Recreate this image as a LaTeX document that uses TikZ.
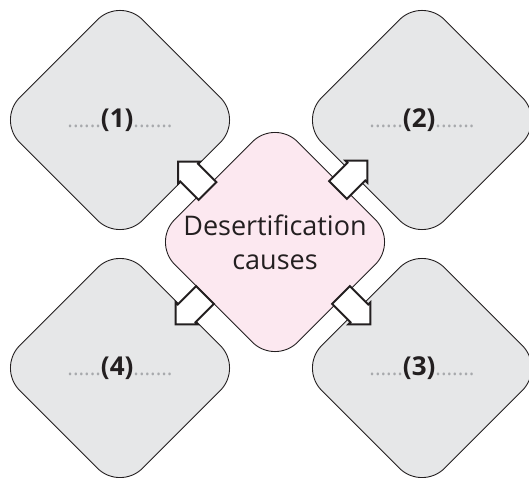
\documentclass[tikz,border=0pt]{standalone}
\usepackage{fontspec}
\setmainfont{Open Sans}
\usetikzlibrary{shapes.geometric}
\definecolor{boxgrey}{HTML}{E6E7E8}
\definecolor{boxpink}{HTML}{FCE8F0}
\definecolor{ink}{HTML}{231F20}
\definecolor{dotgrey}{HTML}{A7A9AC}
\tikzset{
  rdiam/.style={diamond, draw=ink, line width=0.9pt, minimum width=246pt, minimum height=246pt,
    inner sep=0pt, rounded corners=32pt, text=ink, align=center},
  greybox/.style={rdiam, fill=boxgrey, font=\fontsize{26}{30}\selectfont\bfseries},
  pinkbox/.style={rdiam, fill=boxpink, font=\fontsize{27}{34}\selectfont},
  blockarrow/.style={draw=ink, fill=white, line width=2pt, line join=miter}
}
\newcommand{\gdots}[1]{{\fontsize{21}{24}\selectfont\mdseries\textcolor{dotgrey}{#1}}}
\newcommand{\blockarrowpath}{(0,-12.5) -- (26,-12.5) -- (26,-15.5) -- (41.5,0) -- (26,15.5) -- (26,12.5) -- (0,12.5) -- cycle}
\begin{document}
\begin{tikzpicture}[x=1pt,y=-1pt]
\useasboundingbox (0,0) rectangle (529,478);
\node[greybox] (d1) at (120,120) {\gdots{......}(1)\gdots{.......}};
\node[greybox] (d2) at (422,120) {\gdots{......}(2)\gdots{.......}};
\node[greybox] (d4) at (120,368) {\gdots{......}(4)\gdots{.......}};
\node[greybox] (d3) at (422,368) {\gdots{......}(3)\gdots{.......}};
\node[pinkbox] (c) at (275,242) {Desertification\\causes};
\coordinate (a1) at (207.5,191);
\coordinate (a2) at (338,190);
\coordinate (a3) at (341,295);
\coordinate (a4) at (205,295);
\draw[blockarrow, shift={(a1)}, rotate=135] \blockarrowpath;
\draw[blockarrow, shift={(a2)}, rotate=45] \blockarrowpath;
\draw[blockarrow, shift={(a3)}, rotate=-45] \blockarrowpath;
\draw[blockarrow, shift={(a4)}, rotate=-135] \blockarrowpath;
\end{tikzpicture}
\end{document}
